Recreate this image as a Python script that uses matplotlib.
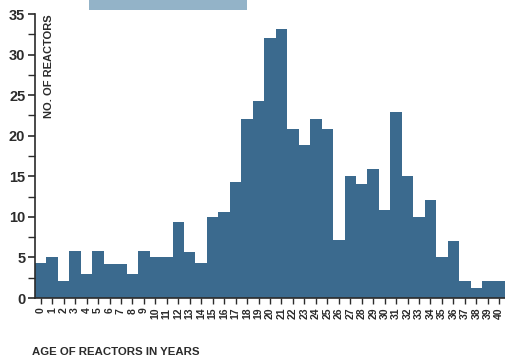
import matplotlib
matplotlib.use("Agg")
import matplotlib.pyplot as plt
from matplotlib.patches import Rectangle

plt.rcParams["font.family"] = ["Liberation Sans", "DejaVu Sans"]

# age of reactors (years) and number of reactors
ages = list(range(41))
counts = [4.3, 5.0, 2.1, 5.8, 3.0, 5.8, 4.15, 4.15, 3.0, 5.8,
          5.0, 5.0, 9.35, 5.7, 4.3, 9.95, 10.6, 14.3, 22.0, 24.3,
          32.1, 33.1, 20.8, 18.8, 22.0, 20.8, 7.1, 15.0, 14.0, 15.9,
          10.8, 22.9, 15.0, 9.95, 12.05, 5.0, 7.0, 2.05, 1.2, 2.05,
          2.05]
yticks = [0, 5, 10, 15, 20, 25, 30, 35]

bar_color = "#3b6a8e"
text_color = "#2b2b2b"

fig = plt.figure(figsize=(5.05, 3.6), dpi=100)
ax = fig.add_axes([35 / 505, 62 / 360, 470 / 505, 284 / 360])

ax.bar(ages, counts, width=1.0, color=bar_color, linewidth=0)

ax.set_xlim(-0.5, 40.5)
ax.set_ylim(0, 35)
ax.set_yticks(yticks)
ax.set_yticks([2.5 + v for v in yticks[:-1]], minor=True)
ax.set_yticklabels([str(v) for v in yticks], fontsize=10.5, fontweight="bold",
                   color=text_color)
ax.set_xticks(ages)
ax.set_xticklabels([str(a) for a in ages], rotation=90, fontsize=7.5,
                   fontweight="bold", color=text_color)

for side in ["top", "right"]:
    ax.spines[side].set_visible(False)
for side in ["left", "bottom"]:
    ax.spines[side].set_color(text_color)
    ax.spines[side].set_linewidth(1.2)
ax.tick_params(axis="y", which="major", length=5, width=1.2, color=text_color, pad=2)
ax.tick_params(axis="y", which="minor", length=5, width=1.0, color=text_color)
ax.tick_params(axis="x", length=4, width=1.0, color=text_color, pad=3)

ax.text(0.03, 1.0, "NO. OF REACTORS", transform=ax.transAxes, rotation=90,
        ha="center", va="top", fontsize=8, fontweight="bold", color=text_color)
fig.text(32 / 505, 1 - 352 / 360, "AGE OF REACTORS IN YEARS", ha="left",
         va="center", fontsize=8.2, fontweight="bold", color=text_color)

# light band at the top edge
fig.patches.append(Rectangle((89 / 505, 1 - 10 / 360), 158 / 505, 10 / 360,
                             transform=fig.transFigure, facecolor="#93b3c8",
                             edgecolor="none"))

fig.savefig("out.png", dpi=100, facecolor="white")
